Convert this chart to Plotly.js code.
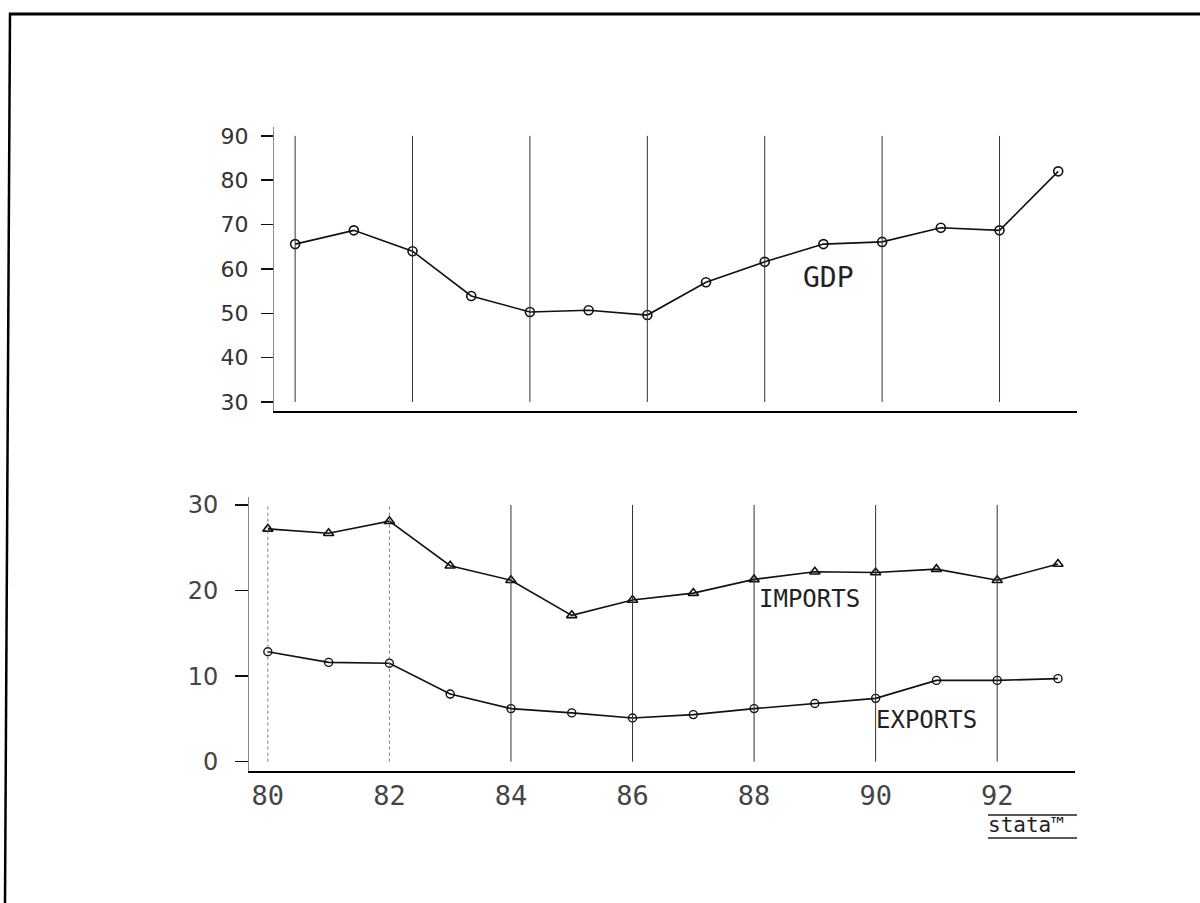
<!DOCTYPE html>
<html>
<head>
<meta charset="utf-8">
<script src="https://cdn.plot.ly/plotly-3.0.1.min.js"></script>
<style>
  html, body { margin: 0; padding: 0; background: #fff; }
  #chart { width: 1200px; height: 903px; }
</style>
</head>
<body>
<div id="chart"></div>
<script>
// ---- data ----
const years = [80, 81, 82, 83, 84, 85, 86, 87, 88, 89, 90, 91, 92, 93];
const gdp = [65.6, 68.7, 64.0, 53.9, 50.3, 50.7, 49.6, 57.0, 61.6, 65.6, 66.1, 69.3, 68.7, 82.0];
const imports = [27.2, 26.7, 28.1, 22.9, 21.2, 17.1, 18.9, 19.7, 21.3, 22.2, 22.1, 22.5, 21.2, 23.1];
const exportsV = [12.85, 11.6, 11.5, 7.9, 6.2, 5.7, 5.1, 5.5, 6.2, 6.8, 7.4, 9.5, 9.5, 9.7];
const gridYears = [80, 82, 84, 86, 88, 90, 92];
const yearLabels = ['80', '82', '84', '86', '88', '90', '92'];
const gdpTicks = [30, 40, 50, 60, 70, 80, 90];
const tradeTicks = [0, 10, 20, 30];
const seriesLabels = ['GDP', 'IMPORTS', 'EXPORTS'];

// ---- styling / layout ----
const W = 1200, H = 903;
const px = v => v / W;
const py = v => 1 - v / H;
const ink = '#111';
const tickFont = {family: 'DejaVu Sans, sans-serif', size: 22, color: '#333'};
const lineStyle = {color: ink, width: 1.6};

const traces = [
  {x: years, y: gdp, xaxis: 'x', yaxis: 'y', mode: 'lines+markers', name: seriesLabels[0],
   line: lineStyle, marker: {symbol: 'circle-open', size: 9, color: ink, line: {width: 1.6, color: ink}}},
  {x: years, y: imports, xaxis: 'x2', yaxis: 'y2', mode: 'lines+markers', name: seriesLabels[1],
   line: lineStyle, marker: {symbol: 'triangle-up-open', size: 9, color: ink, line: {width: 1.6, color: ink}}},
  {x: years, y: exportsV, xaxis: 'x2', yaxis: 'y2', mode: 'lines+markers', name: seriesLabels[2],
   line: lineStyle, marker: {symbol: 'circle-open', size: 8, color: ink, line: {width: 1.4, color: ink}}}
];

const shapes = [];
// vertical reference lines at even years, spanning the labelled value range
gridYears.forEach(yr => {
  shapes.push({type: 'line', xref: 'x', yref: 'y', x0: yr, x1: yr,
    y0: Math.min(...gdpTicks), y1: Math.max(...gdpTicks),
    line: {color: '#333', width: 1}});
  shapes.push({type: 'line', xref: 'x2', yref: 'y2', x0: yr, x1: yr,
    y0: Math.min(...tradeTicks), y1: Math.max(...tradeTicks),
    line: {color: yr < 84 ? '#777' : '#333', width: 1, dash: yr < 84 ? 'dot' : 'solid'}});
});
// page border (scanned sheet edge)
shapes.push({type: 'line', xref: 'paper', yref: 'paper', x0: px(9), y0: py(14), x1: 1, y1: py(14),
  line: {color: '#000', width: 3}});
shapes.push({type: 'line', xref: 'paper', yref: 'paper', x0: px(10), y0: py(13), x1: px(5), y1: 0,
  line: {color: '#000', width: 2.5}});
// logo rules
shapes.push({type: 'line', xref: 'paper', yref: 'paper', x0: px(988), y0: py(815), x1: px(1077), y1: py(815),
  line: {color: '#222', width: 1.5}});
shapes.push({type: 'line', xref: 'paper', yref: 'paper', x0: px(988), y0: py(838), x1: px(1077), y1: py(838),
  line: {color: '#222', width: 1.5}});

const annotations = [
  {xref: 'x', yref: 'y', x: 88.62, y: 58.0, text: seriesLabels[0], showarrow: false,
   xanchor: 'left', yanchor: 'middle', font: {family: 'DejaVu Sans Mono, monospace', size: 28, color: '#222'}},
  {xref: 'x2', yref: 'y2', x: 88.05, y: 19.0, text: seriesLabels[1], showarrow: false,
   xanchor: 'left', yanchor: 'middle', font: {family: 'DejaVu Sans Mono, monospace', size: 24, color: '#222'}},
  {xref: 'x2', yref: 'y2', x: 89.98, y: 4.9, text: seriesLabels[2], showarrow: false,
   xanchor: 'left', yanchor: 'middle', font: {family: 'DejaVu Sans Mono, monospace', size: 24, color: '#222'}},
  {xref: 'paper', yref: 'paper', x: px(986), y: py(825), text: 'stata™', showarrow: false,
   xanchor: 'left', yanchor: 'middle', font: {family: 'DejaVu Sans Mono, monospace', size: 21, color: '#222'}}
];

const layout = {
  width: W, height: H, autosize: false,
  margin: {l: 0, r: 0, t: 0, b: 0, pad: 0},
  paper_bgcolor: '#fff', plot_bgcolor: '#fff',
  showlegend: false,
  xaxis: {domain: [px(274), px(1077)], range: [79.64, 93.32], anchor: 'y',
    showgrid: false, zeroline: false, showticklabels: false, ticks: '',
    showline: true, linecolor: '#000', linewidth: 2, automargin: false, fixedrange: true},
  yaxis: {domain: [py(411), py(127)], range: [27.97, 92.0], anchor: 'x',
    showgrid: false, zeroline: false, tickvals: gdpTicks, ticktext: gdpTicks.map(String),
    ticks: 'outside', ticklen: 12, tickwidth: 1.5, tickcolor: '#111',
    ticklabelstandoff: 8, tickfont: tickFont,
    showline: true, linecolor: '#888', linewidth: 1, automargin: false, fixedrange: true},
  xaxis2: {domain: [px(249), px(1075)], range: [79.69, 93.28], anchor: 'y2',
    showgrid: false, zeroline: false, tickvals: gridYears, ticktext: yearLabels,
    ticks: '', ticklabelstandoff: 0,
    tickfont: {family: 'DejaVu Sans Mono, monospace', size: 27, color: '#444'},
    showline: true, linecolor: '#000', linewidth: 2, automargin: false, fixedrange: true},
  yaxis2: {domain: [py(771), py(497)], range: [-1.09, 30.93], anchor: 'x2',
    showgrid: false, zeroline: false, tickvals: tradeTicks, ticktext: tradeTicks.map(String),
    ticks: 'outside', ticklen: 13, tickwidth: 1.5, tickcolor: '#111',
    ticklabelstandoff: 12, tickfont: {family: 'DejaVu Sans, sans-serif', size: 24, color: '#444'},
    showline: true, linecolor: '#888', linewidth: 1, automargin: false, fixedrange: true},
  shapes: shapes,
  annotations: annotations
};

Plotly.newPlot('chart', traces, layout, {displayModeBar: false, staticPlot: true});
</script>
</body>
</html>
